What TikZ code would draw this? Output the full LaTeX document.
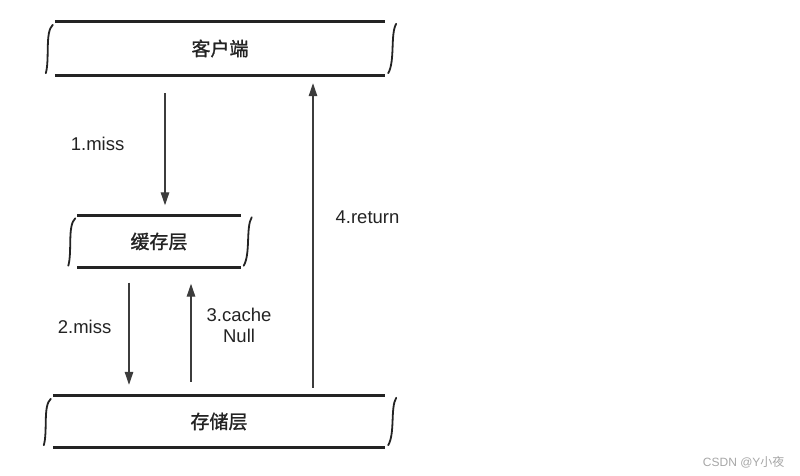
\documentclass[tikz,border=0pt]{standalone}
\usepackage{fontspec}
\setmainfont{Liberation Sans}
\newfontfamily\cjk[AutoFakeBold=1.2]{Noto Sans CJK SC}
\usetikzlibrary{arrows.meta,calc}
\definecolor{inkgray}{RGB}{35,35,35}
\definecolor{linegray}{RGB}{60,60,60}

\begin{document}
\begin{tikzpicture}[
  x=1pt, y=-1pt,
  layer/.style = {rectangle, inner sep=0pt, font=\fontsize{19}{22}\selectfont\cjk\bfseries,
                  text=inkgray},
  rule/.style  = {line width=2.8pt, inkgray},
  side/.style  = {line width=1.8pt, inkgray, line cap=round},
  arr/.style   = {-{Triangle[length=13pt,width=8.5pt]}, line width=1.3pt, linegray},
  lbl/.style   = {font=\fontsize{18.5}{21}\selectfont, text=inkgray, align=center,
                  inner sep=0pt},
]
\useasboundingbox (0,0) rectangle (800,476);

\node[layer, minimum width=330pt, minimum height=53pt] (client) at (220,48.5)  {客户端};
\node[layer, minimum width=163pt, minimum height=52pt] (cache)  at (159,241.5) {缓存层};
\node[layer, minimum width=332pt, minimum height=51pt] (store)  at (219,421.5) {存储层};

% scroll-like borders of the three layers
\foreach \n in {client,cache,store} {
  \draw[rule] (\n.north west) -- (\n.north east);
  \draw[rule] (\n.south west) -- (\n.south east);
  \draw[side] ($(\n.north west)+(-2,3)$) .. controls ($(\n.north west)+(-10,10)$)
    and ($(\n.south west)+(-5,-16)$) .. ($(\n.south west)+(-9,-2)$);
  \draw[side] ($(\n.north east)+(11,2)$) .. controls ($(\n.north east)+(5,12)$)
    and ($(\n.south east)+(10,-14)$) .. ($(\n.south east)+(3,-2)$);
}

\draw[arr] ($(cache.north |- client.south)+(6,18)$) -- ($(cache.north)+(6,-10)$)
  node[lbl, midway, left=40pt, yshift=5pt] (miss1) {1.miss};
\draw[arr] ($(cache.south)+(-30,15)$) -- ($(cache.south |- store.north)+(-30,-11)$)
  node[lbl, midway, left=17pt, yshift=7pt] (miss2) {2.miss};
\draw[arr] ($(cache.south |- store.north)+(32,-14)$) -- ($(cache.south)+(32,16)$)
  node[lbl, midway, right=15pt, yshift=7pt] (null3) {3.cache\\Null};
\draw[arr] ($(store.north)+(94,-8)$) -- ($(client.south)+(93,8)$)
  node[lbl, midway, right=22pt, yshift=18pt] (ret4) {4.return};

\node[font=\fontsize{12}{14}\selectfont, text=black!35, anchor=east] (mark) at (788,462)
  {CSDN @Y{\cjk 小夜}};
\end{tikzpicture}
\end{document}
